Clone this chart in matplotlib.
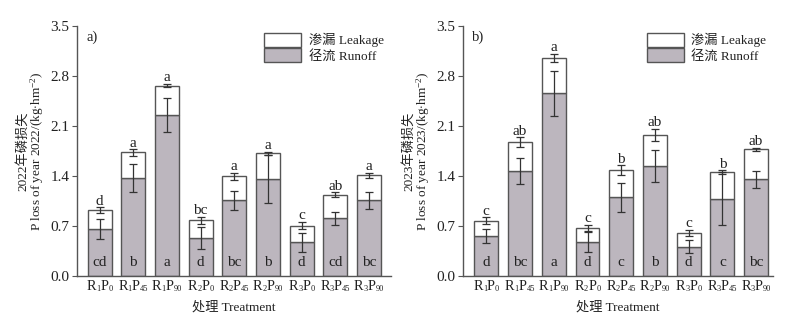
import matplotlib
matplotlib.use("Agg")
import matplotlib.pyplot as plt
from matplotlib.patches import Patch
from matplotlib.offsetbox import TextArea, HPacker, AnnotationBbox
import numpy as np

plt.rcParams['font.family'] = ['Liberation Serif', 'Noto Sans CJK SC']
plt.rcParams['mathtext.fontset'] = 'custom'
plt.rcParams['mathtext.rm'] = 'Liberation Serif'
plt.rcParams['mathtext.it'] = 'Liberation Serif:italic'
plt.rcParams['mathtext.bf'] = 'Liberation Serif:bold'

# treatment = (rainfall level, phosphorus rate)
rain_levels = ["1", "1", "1", "2", "2", "2", "3", "3", "3"]
p_rates = ["0", "45", "90", "0", "45", "90", "0", "45", "90"]

# 2022
runoff_2022 = [0.665, 1.373, 2.252, 0.535, 1.061, 1.354, 0.470, 0.810, 1.061]
runoff_err_2022 = [0.14, 0.19, 0.24, 0.15, 0.13, 0.335, 0.13, 0.09, 0.12]
total_2022 = [0.926, 1.731, 2.666, 0.782, 1.396, 1.717, 0.707, 1.140, 1.410]
total_err_2022 = [0.04, 0.045, 0.025, 0.05, 0.05, 0.02, 0.055, 0.035, 0.035]
top_letters_2022 = ["d", "a", "a", "bc", "a", "a", "c", "ab", "a"]
runoff_letters_2022 = ["cd", "b", "a", "d", "bc", "b", "d", "cd", "bc"]

# 2023
runoff_2023 = [0.558, 1.466, 2.555, 0.475, 1.103, 1.540, 0.409, 1.080, 1.354]
runoff_err_2023 = [0.10, 0.18, 0.32, 0.14, 0.205, 0.225, 0.09, 0.37, 0.12]
total_2023 = [0.777, 1.871, 3.057, 0.675, 1.480, 1.973, 0.600, 1.452, 1.773]
total_err_2023 = [0.045, 0.07, 0.055, 0.045, 0.07, 0.09, 0.045, 0.03, 0.025]
top_letters_2023 = ["c", "ab", "a", "c", "b", "ab", "c", "b", "ab"]
runoff_letters_2023 = ["d", "bc", "a", "d", "c", "b", "d", "c", "bc"]

yticks = [0.0, 0.7, 1.4, 2.1, 2.8, 3.5]

RUNOFF_COLOR = "#bcb6be"
EDGE = "#555555"
TEXT = "#222222"
FS = 9.5        # axis titles and legend
FS_TICK = 11    # y tick labels and significance letters
FS_MAIN = 10.2  # R / P in treatment labels
FS_SUB = 6.0    # subscripts in treatment labels

FIG_W_PX = 788


def treatment_label(ax, xpos, r, p):
    """Treatment name R_r P_p under the x axis with small subscripts."""
    parts = [("R", FS_MAIN), (r, FS_SUB), ("P", FS_MAIN), (p, FS_SUB)]
    areas = [TextArea(s, textprops=dict(size=sz, color=TEXT)) for s, sz in parts]
    box = HPacker(children=areas, align="bottom", pad=0, sep=0)
    ab = AnnotationBbox(box, (xpos, 0), xycoords=("data", "axes fraction"),
                        xybox=(0, -2.5), boxcoords="offset points",
                        box_alignment=(0.5, 1.0), frameon=False,
                        annotation_clip=False)
    ax.add_artist(ab)


def draw_panel(ax, runoff, runoff_err, total, total_err, top_letters,
               runoff_letters, year, tag, xlim, width_px):
    x = np.arange(len(p_rates))
    w = 0.71
    leak = np.array(total) - np.array(runoff)
    ax.bar(x, runoff, w, color=RUNOFF_COLOR, edgecolor=EDGE, linewidth=1.0,
           zorder=2)
    ax.bar(x, leak, w, bottom=runoff, color="white", edgecolor=EDGE,
           linewidth=1.0, zorder=2)
    ax.errorbar(x, total, yerr=total_err, fmt="none", ecolor="#333333",
                elinewidth=0.9, capsize=2.6, capthick=0.9, zorder=3)
    ax.errorbar(x, runoff, yerr=runoff_err, fmt="none", ecolor="#333333",
                elinewidth=0.9, capsize=2.6, capthick=0.9, zorder=3)
    for xi, t, te, lt in zip(x, total, total_err, top_letters):
        ax.text(xi, t + te + 0.035, lt, ha="center", va="baseline",
                fontsize=FS_TICK, color=TEXT)
    for xi, lt in zip(x, runoff_letters):
        ax.text(xi, 0.19, lt, ha="center", va="center", fontsize=FS_TICK,
                color=TEXT, zorder=4)

    ax.set_xlim(*xlim)
    ax.set_ylim(0, 3.5)
    ax.set_yticks(yticks)
    ax.set_yticklabels([f"{v:.1f}" for v in yticks])
    ax.set_xticks(x)
    ax.set_xticklabels([])
    for xi, r, p in zip(x, rain_levels, p_rates):
        treatment_label(ax, xi, r, p)
    ax.tick_params(axis="x", direction="in", length=3, width=0.8, colors=EDGE)
    ax.tick_params(axis="y", direction="out", length=3.5, width=0.8,
                   colors=EDGE, labelcolor=TEXT, labelsize=FS_TICK, pad=2)
    for side in ("top", "right"):
        ax.spines[side].set_visible(False)
    for side in ("left", "bottom"):
        ax.spines[side].set_color(EDGE)
        ax.spines[side].set_linewidth(1.0)

    ax.text(0.5, -0.124, "处理 Treatment", transform=ax.transAxes,
            ha="center", va="center", fontsize=FS, color=TEXT)
    ax.text(-40.0 / width_px, 0.5,
            f"P loss of year {year}/(kg$\\cdot$hm$^{{-2}}$)",
            transform=ax.transAxes, rotation=90, ha="center", va="center",
            fontsize=FS, color=TEXT)
    ax.text(-54.0 / width_px, 0.5, f"{year}年磷损失", transform=ax.transAxes,
            rotation=90, ha="center", va="center", fontsize=FS, color=TEXT)
    ax.text(0.03, 0.955, tag, transform=ax.transAxes, ha="left", va="center",
            fontsize=10.5, color=TEXT)

    handles = [Patch(facecolor="white", edgecolor=EDGE, linewidth=1.0),
               Patch(facecolor=RUNOFF_COLOR, edgecolor=EDGE, linewidth=1.0)]
    leg = ax.legend(handles, ["渗漏 Leakage", "径流 Runoff"], loc="upper right",
                    frameon=False, fontsize=FS, handlelength=2.8,
                    handleheight=1.3, labelspacing=0.05, handletextpad=0.6,
                    borderaxespad=0.1, bbox_to_anchor=(1.0, 1.0))
    for t in leg.get_texts():
        t.set_color(TEXT)


fig = plt.figure(figsize=(7.88, 3.24), dpi=100)
ax1 = fig.add_axes([0.0977, 0.148, 0.398, 0.772])
ax2 = fig.add_axes([0.5876, 0.148, 0.3934, 0.772])

draw_panel(ax1, runoff_2022, runoff_err_2022, total_2022, total_err_2022,
           top_letters_2022, runoff_letters_2022, 2022, "a)", (-0.67, 8.64),
           0.398 * FIG_W_PX)
draw_panel(ax2, runoff_2023, runoff_err_2023, total_2023, total_err_2023,
           top_letters_2023, runoff_letters_2023, 2023, "b)", (-0.69, 8.5),
           0.3934 * FIG_W_PX)

fig.savefig("out.png", dpi=100, facecolor="white")
